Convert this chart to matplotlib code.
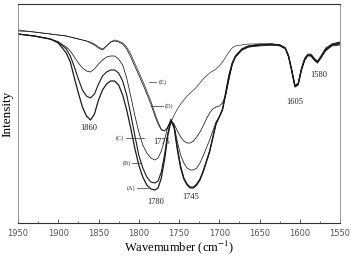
import matplotlib
matplotlib.use("Agg")
import matplotlib.pyplot as plt
from matplotlib.ticker import MultipleLocator

plt.rcParams['font.family'] = ['Liberation Serif', 'DejaVu Serif']
plt.rcParams['mathtext.fontset'] = 'stix'

# wavenumber grid shared by all spectra (cm-1)
wavenumber = [1950, 1930, 1910, 1900, 1890, 1885, 1880, 1875, 1870, 1865,
              1860, 1855, 1850, 1845, 1840, 1835, 1830, 1825, 1820, 1815,
              1810, 1805, 1800, 1795, 1790, 1785, 1780, 1776, 1772, 1768,
              1764, 1760, 1756, 1752, 1748, 1744, 1740, 1736, 1732, 1728,
              1724, 1720, 1716, 1712, 1708, 1704, 1700, 1696, 1692, 1688,
              1684, 1680, 1672, 1664, 1650, 1635, 1625, 1618, 1614, 1610,
              1606, 1602, 1598, 1594, 1590, 1586, 1582, 1578, 1574, 1568,
              1560, 1550]

# intensity (a.u.)
spec_A = [189, 187, 184, 180, 170, 161, 145, 130, 116, 107,
          103, 109, 123, 133, 139, 142, 142, 138, 128, 113,
          95, 75, 58, 46, 38, 34, 33, 35, 45, 63,
          87, 102, 95, 73, 55, 44, 38, 35, 35, 38,
          43, 51, 61, 71, 85, 99, 106, 113, 129, 146,
          159, 166, 173, 176, 178, 178, 178, 175, 167, 153,
          137, 139, 153, 163, 168, 168, 164, 161, 165, 173,
          178, 180]
spec_B = [189, 187, 184, 181, 174, 167, 156, 144, 133, 127,
          125, 129, 139, 147, 151, 153, 153, 150, 142, 128,
          109, 88, 68, 55, 46, 41, 40, 42, 51, 68,
          89, 103, 96, 75, 57, 45, 39, 36, 36, 39,
          44, 52, 62, 72, 86, 100, 106, 114, 131, 148,
          160, 167, 174, 177, 178, 179, 178, 175, 167, 152,
          136, 138, 153, 163, 168, 167, 163, 160, 165, 173,
          178, 179]
spec_C = [189, 187, 184, 181, 176, 172, 166, 160, 155, 152,
          151, 154, 159, 163, 166, 167, 167, 164, 158, 145,
          127, 108, 91, 78, 70, 65, 63, 65, 72, 83,
          96, 104, 97, 81, 68, 60, 55, 53, 53, 55,
          60, 67, 75, 83, 92, 101, 106, 113, 128, 145,
          158, 166, 173, 176, 177, 178, 177, 174, 166, 152,
          137, 139, 153, 163, 167, 167, 163, 161, 165, 172,
          177, 178]
spec_D = [193, 191, 189, 188, 187, 186, 185, 184, 183, 182,
          180, 178, 175, 173, 177, 181, 182, 181, 179, 174,
          166, 157, 148, 139, 129, 119, 107, 99, 93, 92,
          96, 102, 99, 92, 86, 82, 80, 80, 82, 86,
          91, 97, 104, 110, 114, 116, 117, 120, 128, 143,
          158, 167, 174, 177, 179, 179, 178, 175, 167, 153,
          137, 139, 154, 164, 168, 168, 164, 161, 166, 174,
          179, 181]
spec_E = [192, 191, 189, 188, 187, 186, 185, 184, 183, 182,
          181, 179, 176, 174, 177, 181, 183, 182, 180, 176,
          169, 160, 151, 142, 132, 122, 110, 101, 94, 92,
          95, 101, 108, 114, 119, 123, 127, 130, 133, 136,
          140, 144, 147, 150, 152, 154, 157, 161, 166, 171,
          175, 177, 178, 179, 179, 179, 178, 175, 168, 154,
          138, 140, 155, 165, 169, 169, 165, 162, 167, 175,
          179, 181]

spectra = [spec_A, spec_B, spec_C, spec_D, spec_E]
widths = [0.9, 0.8, 0.55, 0.55, 0.45]

peak_labels = ['1860', '1780', '1775', '1745', '1605', '1580']
peak_pos = [(1862, 95), (1779, 21), (1772, 81), (1736, 26), (1606, 121), (1577, 148)]

curve_labels = ['(A)', '(B)', '(C)', '(D)', '(E)']
curve_text_pos = [(1810, 35), (1815, 60), (1824, 85), (1762, 117), (1770, 141)]
leader_x = [(1802, 1789), (1809, 1797), (1816, 1794), (1785, 1770), (1787, 1778)]

fig = plt.figure(figsize=(3.51, 2.59), dpi=100)
ax = fig.add_axes([0.0513, 0.139, 0.9174, 0.8456])

for spec, lw in zip(spectra, widths):
    ax.plot(wavenumber, spec, color='#1a1a1a', lw=lw)

for txt, (x, y) in zip(peak_labels, peak_pos):
    ax.text(x, y, txt, fontsize=6, ha='center', va='center', color='#222222')

for txt, (x, y), (x0, x1) in zip(curve_labels, curve_text_pos, leader_x):
    ax.text(x, y, txt, fontsize=4.5, ha='center', va='center', color='#333333')
    ax.plot([x0, x1], [y, y], color='#333333', lw=0.5)

ax.set_xlim(1950, 1550)
ax.set_ylim(0, 219)
ax.xaxis.set_major_locator(MultipleLocator(50))
ax.xaxis.set_minor_locator(MultipleLocator(25))
ax.set_yticks([])
ax.tick_params(axis='x', which='major', direction='in', length=3, width=0.6,
               pad=4, labelsize=6, labelcolor='#555555', color='#444444')
ax.tick_params(axis='x', which='minor', direction='in', length=1.5, width=0.5,
               color='#444444')
for lbl in ax.get_xticklabels():
    lbl.set_family(['DejaVu Sans'])

for side in ['top', 'bottom']:
    ax.spines[side].set_color('#333333')
    ax.spines[side].set_linewidth(0.8)
for side in ['left', 'right']:
    ax.spines[side].set_color('#888888')
    ax.spines[side].set_linewidth(0.6)

ax.set_xlabel('Wavemumber (cm$^{-1}$)', fontsize=9, labelpad=1)
ax.set_ylabel('Intensity', fontsize=9.5, labelpad=3)

fig.savefig('out.png', dpi=100)
